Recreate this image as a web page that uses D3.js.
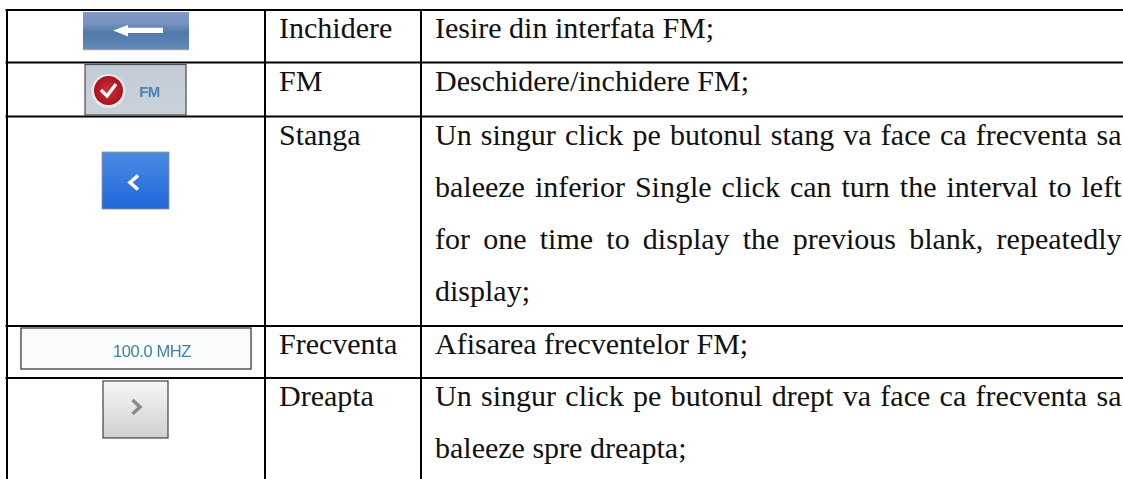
<!DOCTYPE html>
<head>
    <meta charset="utf-8">
    <script src="https://d3js.org/d3.v7.min.js"></script>
    <style>
        body {
            margin: 0;
            background: white;
        }

        svg {
            display: block;
        }

        text.cell {
            font-family: "Liberation Serif", serif;
            font-size: 30px;
            fill: #111;
        }
    </style>
</head>

<body>
<svg id="table" width=1123 height=479></svg>
<script>

    const names = ["Inchidere", "FM", "Stanga", "Frecventa", "Dreapta"];

    const descriptions = [
        ["Iesire din interfata FM;"],
        ["Deschidere/inchidere FM;"],
        ["Un singur click pe butonul stang va face ca frecventa sa",
            "baleeze inferior Single click can turn the interval to left",
            "for one time to display the previous blank, repeatedly",
            "display;"],
        ["Afisarea frecventelor FM;"],
        ["Un singur click pe butonul drept va face ca frecventa sa",
            "baleeze spre dreapta;"]
    ];

    const frequencyLabel = "100.0 MHZ";
    const fmLabel = "FM";

    const rowLines = [10, 62.5, 116.5, 326, 378];
    const colLines = [7, 265, 421];
    const firstBaseline = 28.3;
    const lineStep = 52;
    const textRight = 1121.5;

    const svg = d3.select("#table");
    const defs = svg.append("defs");

    function gradient(id, stops) {
        const g = defs.append("linearGradient")
            .attr("id", id)
            .attr("x1", 0).attr("y1", 0)
            .attr("x2", 0).attr("y2", 1);
        stops.forEach(function (s) {
            g.append("stop").attr("offset", s[0]).attr("stop-color", s[1]);
        });
    }

    gradient("backGrad", [[0, "#7f9ac6"], [0.3, "#7793c0"], [0.55, "#4f79aa"], [1, "#638cb8"]]);
    gradient("fmGrad", [[0, "#c3ccd6"], [1, "#c9d1da"]]);
    gradient("leftGrad", [[0, "#4a8ce4"], [1, "#1f66dc"]]);
    gradient("rightGrad", [[0, "#f7f7f7"], [1, "#cfcfcf"]]);

    const redGrad = defs.append("radialGradient").attr("id", "redGrad");
    redGrad.append("stop").attr("offset", 0).attr("stop-color", "#d0303a");
    redGrad.append("stop").attr("offset", 1).attr("stop-color", "#a81420");

    defs.append("filter").attr("id", "soft")
        .append("feGaussianBlur").attr("stdDeviation", 0.6);

    // table lines
    svg.selectAll("line.row").data(rowLines).enter()
        .append("line")
        .attr("class", "row")
        .attr("x1", 5.5)
        .attr("x2", 1123)
        .attr("y1", function (d) {
            return d
        })
        .attr("y2", function (d) {
            return d
        })
        .attr("stroke", "black")
        .attr("stroke-width", 2);

    svg.selectAll("line.col").data(colLines).enter()
        .append("line")
        .attr("class", "col")
        .attr("x1", function (d) {
            return d
        })
        .attr("x2", function (d) {
            return d
        })
        .attr("y1", 9)
        .attr("y2", 479)
        .attr("stroke", "black")
        .attr("stroke-width", 2);

    // second column
    svg.selectAll("text.name").data(names).enter()
        .append("text")
        .attr("class", "cell name")
        .attr("x", 279)
        .attr("y", function (d, i) {
            return rowLines[i] + firstBaseline
        })
        .text(function (d) {
            return d
        });

    // third column, all lines but the last of a cell are justified
    descriptions.forEach(function (lines, r) {
        lines.forEach(function (line, i) {
            const t = svg.append("text")
                .attr("class", "cell")
                .attr("x", 435)
                .attr("y", rowLines[r] + firstBaseline + i * lineStep)
                .text(line);
            if (i < lines.length - 1) {
                const gaps = line.split(" ").length - 1;
                const extra = (textRight - 435 - t.node().getComputedTextLength()) / gaps;
                t.style("word-spacing", extra + "px");
            }
        });
    });

    // button pictures
    const icons = svg.append("g").attr("filter", "url(#soft)");

    // back button
    icons.append("rect")
        .attr("x", 83).attr("y", 12).attr("width", 106).attr("height", 38)
        .attr("fill", "url(#backGrad)");
    icons.append("rect")
        .attr("x", 83).attr("y", 49).attr("width", 106).attr("height", 1.2)
        .attr("fill", "#b09a78");
    icons.append("path")
        .attr("d", "M113 30.5 L128 25 L128 27.8 L163 27.8 L163 33 L128 33 L128 36.5 Z")
        .attr("fill", "white");

    // FM button
    icons.append("rect")
        .attr("x", 85).attr("y", 64.5).attr("width", 101).attr("height", 50.5)
        .attr("fill", "url(#fmGrad)")
        .attr("stroke", "#4c4c4c")
        .attr("stroke-width", 1.2);
    icons.append("circle")
        .attr("cx", 108.5).attr("cy", 91).attr("r", 17)
        .attr("fill", "#e6e8ea");
    icons.append("circle")
        .attr("cx", 108.5).attr("cy", 90.5).attr("r", 14.5)
        .attr("fill", "url(#redGrad)");
    icons.append("path")
        .attr("d", "M101 90 L107 96 L116 84")
        .attr("fill", "none")
        .attr("stroke", "white")
        .attr("stroke-width", 3.4);
    icons.append("text")
        .attr("x", 149.5).attr("y", 96.5)
        .attr("text-anchor", "middle")
        .style("font", "bold 15px 'Liberation Sans', sans-serif")
        .style("letter-spacing", "-0.5px")
        .attr("fill", "#4a86b4")
        .text(fmLabel);

    // left button
    icons.append("rect")
        .attr("x", 102).attr("y", 152).attr("width", 67).attr("height", 57)
        .attr("fill", "url(#leftGrad)")
        .attr("stroke", "#a8906a")
        .attr("stroke-width", 0.8);
    icons.append("path")
        .attr("d", "M138 175.5 L130 182.5 L138 189.5")
        .attr("fill", "none")
        .attr("stroke", "white")
        .attr("stroke-width", 3.6);

    // frequency box
    icons.append("rect")
        .attr("x", 21).attr("y", 328).attr("width", 230).attr("height", 41)
        .attr("fill", "#fbfcfd")
        .attr("stroke", "#3c3c3c")
        .attr("stroke-width", 1.3);
    icons.append("text")
        .attr("x", 152).attr("y", 356.5)
        .attr("text-anchor", "middle")
        .style("font", "16.5px 'Liberation Sans', sans-serif")
        .style("letter-spacing", "-0.4px")
        .attr("fill", "#3f7fa8")
        .text(frequencyLabel);

    // right button
    icons.append("rect")
        .attr("x", 103).attr("y", 381).attr("width", 65).attr("height", 57)
        .attr("fill", "url(#rightGrad)")
        .attr("stroke", "#444038")
        .attr("stroke-width", 1.2);
    icons.append("path")
        .attr("d", "M132.5 400 L140 407 L132.5 414")
        .attr("fill", "none")
        .attr("stroke", "#8a8a8a")
        .attr("stroke-width", 3.4);

</script>

</body>
